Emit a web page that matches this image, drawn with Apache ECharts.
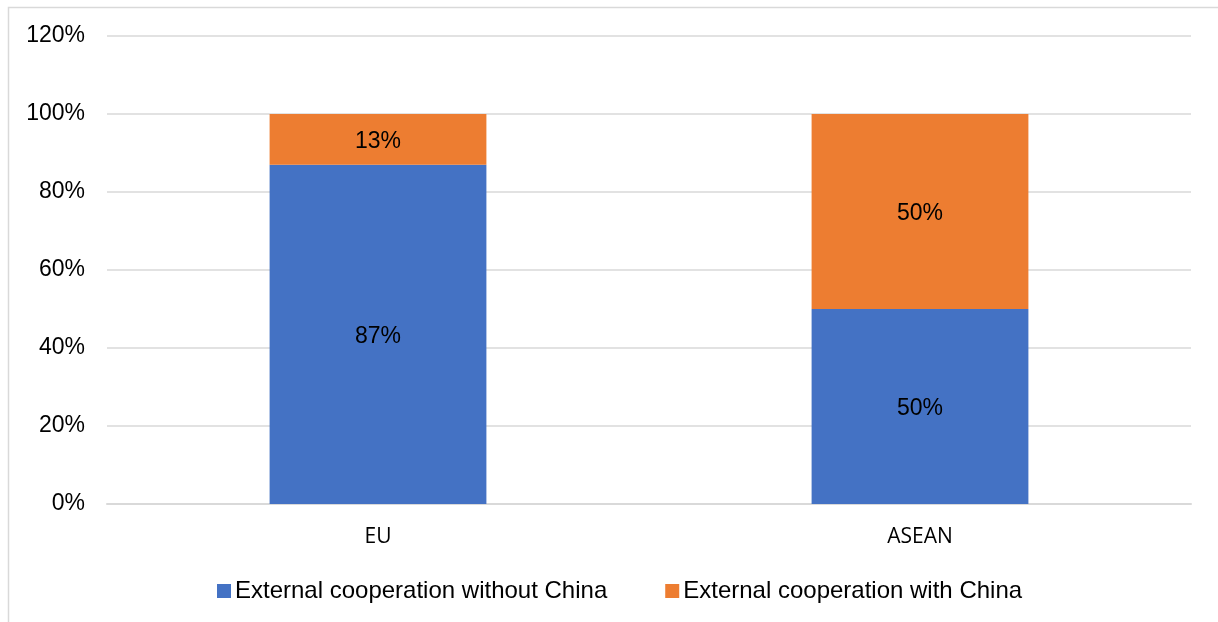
<!DOCTYPE html>
<html>
<head>
<meta charset="utf-8">
<script src="https://cdn.jsdelivr.net/npm/echarts@6/dist/echarts.min.js"></script>
<style>
  html, body { margin: 0; padding: 0; background: #fff; }
  #chart { width: 1218px; height: 622px; }
</style>
</head>
<body>
<div id="chart"></div>
<script>
// Data
const regions = ['EU', 'ASEAN'];
const withoutChina = [87, 50];
const withChina = [13, 50];
const seriesNames = ['External cooperation without China', 'External cooperation with China'];

const chart = echarts.init(document.getElementById('chart'));

const labelStyle = {
    show: true,
    position: 'inside',
    offset: [0, 2],
    formatter: p => p.value + '%',
    color: '#000',
    fontFamily: 'Liberation Sans, Arial, sans-serif',
    fontSize: 23
};

chart.setOption({
    animation: false,
    graphic: [{
        type: 'rect',
        shape: {x: 8.5, y: 7.5, width: 1230, height: 640},
        style: {fill: 'none', stroke: '#d9d9d9', lineWidth: 1.5},
        silent: true
    }],
    grid: {left: 107, right: 27, top: 36, bottom: 118, containLabel: false},
    legend: {
        bottom: 19,
        left: 217,
        padding: 0,
        itemWidth: 14,
        itemHeight: 14,
        itemGap: 58,
        icon: 'rect',
        data: seriesNames,
        textStyle: {
            fontFamily: 'Liberation Sans, Arial, sans-serif',
            fontSize: 24,
            color: '#000',
            padding: [0, 0, 0, -1]
        }
    },
    xAxis: {
        type: 'category',
        data: regions,
        axisLine: {show: true, lineStyle: {color: '#d9d9d9', width: 2}},
        axisTick: {show: false},
        axisLabel: {
            color: '#000',
            fontFamily: 'Open Sans, sans-serif',
            fontSize: 21,
            margin: 23
        }
    },
    yAxis: {
        type: 'value',
        min: 0,
        max: 120,
        interval: 20,
        axisLine: {show: false},
        axisTick: {show: false},
        axisLabel: {
            formatter: '{value}%',
            color: '#000',
            fontFamily: 'Liberation Sans, Arial, sans-serif',
            fontSize: 23,
            margin: 22,
            padding: [4, 0, 0, 0]
        },
        splitLine: {lineStyle: {color: '#d9d9d9', width: 1.5}}
    },
    series: [
        {
            name: seriesNames[0],
            type: 'bar',
            stack: 'total',
            data: withoutChina,
            barWidth: '40%',
            itemStyle: {color: '#4472C4'},
            label: labelStyle
        },
        {
            name: seriesNames[1],
            type: 'bar',
            stack: 'total',
            data: withChina,
            barWidth: '40%',
            itemStyle: {color: '#ED7D31'},
            label: labelStyle
        }
    ]
});
</script>
</body>
</html>
